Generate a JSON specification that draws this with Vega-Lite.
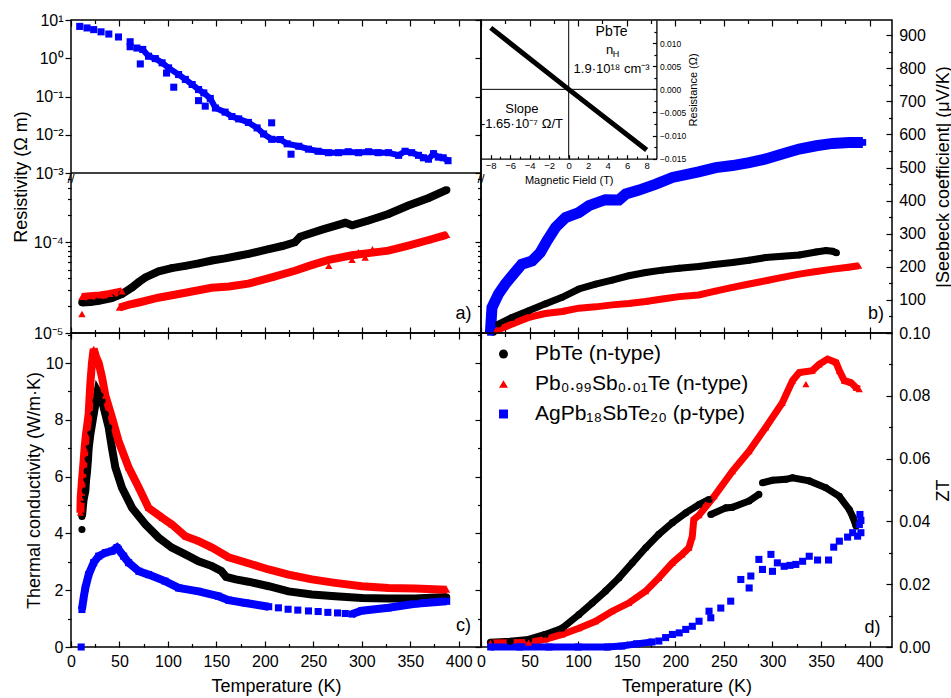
{
"$schema": "https://vega.github.io/schema/vega-lite/v6.json",
"padding": {"left": 11, "top": 11, "right": 0, "bottom": 0},
"background": "white",
"config": {
  "font": "Liberation Sans",
  "view": {"stroke": "#000000", "strokeWidth": 1.5},
  "axis": {"domain": false, "grid": false, "labelFont": "Liberation Sans", "titleFont": "Liberation Sans", "labelFontSize": 16, "titleFontSize": 18, "titleFontWeight": "normal", "labelColor": "#000000", "titleColor": "#000000", "tickColor": "#000000", "tickWidth": 1.2, "labelFlush": false, "labelOverlap": false}
},
"datasets": {
"ra": [{"T":9,"v":6.8,"o":1},{"T":16.5,"v":6.2,"o":1},{"T":23.4,"v":5.6,"o":1},{"T":31,"v":4.9,"o":1},{"T":39,"v":4.3,"o":1},{"T":49,"v":3.6,"o":1},{"T":61,"v":2.7,"o":1},{"T":61,"v":2.0,"o":1},{"T":68,"v":1.85,"o":1},{"T":71.5,"v":0.71,"o":1},{"T":74,"v":1.7},{"T":80,"v":1.13},{"T":87,"v":0.98},{"T":94,"v":0.76},{"T":100.7,"v":0.56},{"T":98.6,"v":0.41,"o":1},{"T":106,"v":0.175,"o":1},{"T":111,"v":0.375},{"T":118,"v":0.28},{"T":125,"v":0.206},{"T":131.6,"v":0.152},{"T":137,"v":0.124},{"T":131.6,"v":0.078,"o":1},{"T":143.7,"v":0.089},{"T":138.5,"v":0.056,"o":1},{"T":149,"v":0.05},{"T":159,"v":0.039},{"T":166,"v":0.03},{"T":173,"v":0.026},{"T":183,"v":0.021},{"T":192,"v":0.0151},{"T":198.7,"v":0.0105},{"T":207,"v":0.0205,"o":1},{"T":207,"v":0.0076},{"T":216,"v":0.0075},{"T":223,"v":0.0058},{"T":227,"v":0.0031,"o":1},{"T":235,"v":0.005},{"T":245,"v":0.0042},{"T":255,"v":0.0037},{"T":265.7,"v":0.0034},{"T":276,"v":0.0034},{"T":286,"v":0.0036},{"T":296.6,"v":0.0034},{"T":307,"v":0.0036},{"T":317,"v":0.0034},{"T":327.5,"v":0.0034},{"T":338,"v":0.0029},{"T":344.7,"v":0.0037},{"T":351.5,"v":0.0034},{"T":358.5,"v":0.0029},{"T":363.6,"v":0.0025},{"T":368.8,"v":0.0023},{"T":374,"v":0.0032},{"T":379,"v":0.0026},{"T":384,"v":0.0025},{"T":389,"v":0.0021}],
"rb": [{"T":11.3,"v":2.17e-5,"s":"A"},{"T":20,"v":2.2e-5,"s":"A"},{"T":28.6,"v":2.27e-5,"s":"A"},{"T":42,"v":2.43e-5,"s":"A"},{"T":52.6,"v":2.69e-5,"s":"A"},{"T":63,"v":3.18e-5,"s":"A"},{"T":70,"v":3.65e-5,"s":"A"},{"T":76.7,"v":4.1e-5,"s":"A"},{"T":90.4,"v":4.78e-5,"s":"A"},{"T":104,"v":5.2e-5,"s":"A"},{"T":118,"v":5.5e-5,"s":"A"},{"T":131.6,"v":5.85e-5,"s":"A"},{"T":145.4,"v":6.3e-5,"s":"A"},{"T":159,"v":6.65e-5,"s":"A"},{"T":173,"v":7.1e-5,"s":"A"},{"T":183,"v":7.45e-5,"s":"A"},{"T":204,"v":8.4e-5,"s":"A"},{"T":218,"v":9.1e-5,"s":"A"},{"T":231,"v":1.0e-4,"s":"A"},{"T":236.5,"v":1.15e-4,"s":"A"},{"T":259,"v":1.38e-4,"s":"A"},{"T":283,"v":1.64e-4,"s":"A"},{"T":290,"v":1.54e-4,"s":"A"},{"T":307,"v":1.74e-4,"s":"A"},{"T":327.5,"v":2.05e-4,"s":"A"},{"T":348,"v":2.54e-4,"s":"A"},{"T":369,"v":3.08e-4,"s":"A"},{"T":387.6,"v":3.78e-4,"s":"A"},
{"T":11.3,"v":2.5e-5,"s":"B","g":1},{"T":20,"v":2.55e-5,"s":"B","g":1},{"T":30,"v":2.6e-5,"s":"B","g":1},{"T":40,"v":2.7e-5,"s":"B","g":1},{"T":52.6,"v":2.88e-5,"s":"B","g":1},{"T":11.3,"v":1.62e-5,"s":"B","o":1},{"T":50,"v":1.91e-5,"s":"B"},{"T":60,"v":2.05e-5,"s":"B"},{"T":70,"v":2.17e-5,"s":"B"},{"T":90,"v":2.45e-5,"s":"B"},{"T":118,"v":2.78e-5,"s":"B"},{"T":145,"v":3.15e-5,"s":"B"},{"T":163,"v":3.25e-5,"s":"B"},{"T":183,"v":3.5e-5,"s":"B"},{"T":207,"v":4.1e-5,"s":"B"},{"T":231,"v":4.86e-5,"s":"B"},{"T":248,"v":5.6e-5,"s":"B"},{"T":266,"v":6.4e-5,"s":"B"},{"T":290,"v":7.2e-5,"s":"B"},{"T":311,"v":7.7e-5,"s":"B"},{"T":327.5,"v":8.1e-5,"s":"B"},{"T":348,"v":9.2e-5,"s":"B"},{"T":369,"v":1.06e-4,"s":"B"},{"T":387.6,"v":1.21e-4,"s":"B"},{"T":266,"v":5.5e-5,"s":"B","o":1},{"T":290,"v":6.4e-5,"s":"B","o":1},{"T":296.6,"v":7.8e-5,"s":"B","o":1},{"T":303.5,"v":6.8e-5,"s":"B","o":1},{"T":311,"v":8.4e-5,"s":"B","o":1}],
"s": [{"T":13,"v":2,"s":"A"},{"T":18,"v":27,"s":"A"},{"T":32,"v":47,"s":"A"},{"T":49,"v":67,"s":"A"},{"T":66,"v":88,"s":"A"},{"T":83.5,"v":108,"s":"A"},{"T":100.7,"v":133,"s":"A"},{"T":118,"v":148,"s":"A"},{"T":135,"v":160,"s":"A"},{"T":152,"v":173,"s":"A"},{"T":169.5,"v":183,"s":"A"},{"T":186.6,"v":190,"s":"A"},{"T":204,"v":196,"s":"A"},{"T":224,"v":201,"s":"A"},{"T":240,"v":207,"s":"A"},{"T":258.8,"v":213,"s":"A"},{"T":276,"v":220,"s":"A"},{"T":293,"v":228,"s":"A"},{"T":310,"v":232,"s":"A"},{"T":327.5,"v":236,"s":"A"},{"T":345,"v":245,"s":"A"},{"T":355,"v":249,"s":"A"},{"T":362,"v":247,"s":"A"},{"T":366,"v":242,"s":"A"},
{"T":15,"v":7,"s":"B"},{"T":32,"v":27,"s":"B"},{"T":49,"v":47,"s":"B"},{"T":66,"v":59,"s":"B"},{"T":83.5,"v":65,"s":"B"},{"T":100.7,"v":75,"s":"B"},{"T":118,"v":79,"s":"B"},{"T":135,"v":85,"s":"B"},{"T":152,"v":89,"s":"B"},{"T":169.5,"v":95,"s":"B"},{"T":186.6,"v":103,"s":"B"},{"T":204,"v":110,"s":"B"},{"T":224,"v":115,"s":"B"},{"T":240,"v":126,"s":"B"},{"T":258.8,"v":138,"s":"B"},{"T":276,"v":148,"s":"B"},{"T":293,"v":158,"s":"B"},{"T":310,"v":168,"s":"B"},{"T":327.5,"v":178,"s":"B"},{"T":345,"v":186,"s":"B"},{"T":362,"v":193,"s":"B"},{"T":376,"v":198,"s":"B"},{"T":389,"v":203,"s":"B"},
{"T":9.7,"v":2,"s":"C"},{"T":11.3,"v":77,"s":"C"},{"T":18,"v":118,"s":"C"},{"T":25,"v":148,"s":"C"},{"T":32,"v":173,"s":"C"},{"T":42,"v":208,"s":"C"},{"T":52.6,"v":218,"s":"C"},{"T":61,"v":243,"s":"C"},{"T":68,"v":279,"s":"C"},{"T":76.7,"v":319,"s":"C"},{"T":87,"v":349,"s":"C"},{"T":100.7,"v":364,"s":"C"},{"T":111,"v":385,"s":"C"},{"T":128,"v":403,"s":"C"},{"T":142,"v":402,"s":"C"},{"T":149,"v":420,"s":"C"},{"T":162.6,"v":432,"s":"C"},{"T":180,"v":450,"s":"C"},{"T":197,"v":470,"s":"C"},{"T":224,"v":487,"s":"C"},{"T":241.6,"v":500,"s":"C"},{"T":258.8,"v":506,"s":"C"},{"T":276,"v":515,"s":"C"},{"T":293,"v":526,"s":"C"},{"T":310,"v":541,"s":"C"},{"T":327.5,"v":556,"s":"C"},{"T":345,"v":566,"s":"C"},{"T":362,"v":573,"s":"C"},{"T":379,"v":576,"s":"C"},{"T":393,"v":576,"s":"C"}],
"k": [{"T":11.3,"v":4.14,"s":"A","o":1},{"T":11.3,"v":4.6,"s":"A"},{"T":13,"v":5.2,"s":"A"},{"T":14.8,"v":5.5,"s":"A"},{"T":15.5,"v":5.85,"s":"A"},{"T":16.6,"v":6.2,"s":"A"},{"T":17.5,"v":6.6,"s":"A"},{"T":18.2,"v":7.0,"s":"A"},{"T":20,"v":7.5,"s":"A"},{"T":23.4,"v":8.2,"s":"A"},{"T":25.8,"v":8.67,"s":"A"},{"T":27.5,"v":9.0,"s":"A"},{"T":30,"v":8.85,"s":"A"},{"T":32,"v":8.67,"s":"A"},{"T":35.5,"v":8.2,"s":"A"},{"T":38.9,"v":7.73,"s":"A"},{"T":42.3,"v":7.0,"s":"A"},{"T":45.8,"v":6.32,"s":"A"},{"T":52.6,"v":5.61,"s":"A"},{"T":63,"v":4.9,"s":"A"},{"T":76.7,"v":4.32,"s":"A"},{"T":90.4,"v":3.85,"s":"A"},{"T":104,"v":3.5,"s":"A"},{"T":118,"v":3.26,"s":"A"},{"T":131.6,"v":3.02,"s":"A"},{"T":145.4,"v":2.85,"s":"A"},{"T":155,"v":2.68,"s":"A"},{"T":160,"v":2.47,"s":"A"},{"T":170,"v":2.38,"s":"A"},{"T":183,"v":2.3,"s":"A"},{"T":204,"v":2.14,"s":"A"},{"T":224.4,"v":1.96,"s":"A"},{"T":248.5,"v":1.85,"s":"A"},{"T":272.5,"v":1.79,"s":"A"},{"T":300,"v":1.73,"s":"A"},{"T":327.5,"v":1.71,"s":"A"},{"T":355,"v":1.71,"s":"A"},{"T":387.6,"v":1.76,"s":"A"},
{"T":9.7,"v":4.73,"s":"B"},{"T":10,"v":5.26,"s":"B"},{"T":11.3,"v":5.85,"s":"B"},{"T":13,"v":6.55,"s":"B"},{"T":14,"v":7.0,"s":"B"},{"T":15.5,"v":7.5,"s":"B"},{"T":18.2,"v":8.2,"s":"B"},{"T":20,"v":9.3,"s":"B"},{"T":21.6,"v":10.0,"s":"B"},{"T":23.4,"v":10.5,"s":"B"},{"T":26,"v":10.2,"s":"B"},{"T":28.6,"v":10.0,"s":"B"},{"T":32,"v":9.5,"s":"B"},{"T":35.5,"v":8.85,"s":"B"},{"T":42.3,"v":8.08,"s":"B"},{"T":49,"v":7.26,"s":"B"},{"T":59.5,"v":6.32,"s":"B"},{"T":70,"v":5.61,"s":"B"},{"T":80,"v":4.9,"s":"B"},{"T":94,"v":4.55,"s":"B"},{"T":104,"v":4.32,"s":"B"},{"T":118,"v":3.9,"s":"B"},{"T":131.6,"v":3.73,"s":"B"},{"T":145.4,"v":3.5,"s":"B"},{"T":162.6,"v":3.16,"s":"B"},{"T":183,"v":2.95,"s":"B"},{"T":204,"v":2.73,"s":"B"},{"T":224.4,"v":2.55,"s":"B"},{"T":248.5,"v":2.38,"s":"B"},{"T":272.5,"v":2.26,"s":"B"},{"T":300,"v":2.14,"s":"B"},{"T":327.5,"v":2.08,"s":"B"},{"T":355,"v":2.06,"s":"B"},{"T":387.6,"v":2.02,"s":"B"},
{"T":10.5,"v":0,"s":"C","o":1},{"T":11.3,"v":1.32,"s":"C","g":1},{"T":13,"v":1.73,"s":"C","g":1},{"T":14.8,"v":2.08,"s":"C","g":1},{"T":18.2,"v":2.55,"s":"C","g":1},{"T":23.4,"v":2.97,"s":"C","g":1},{"T":28.6,"v":3.2,"s":"C","g":1},{"T":35.5,"v":3.32,"s":"C","g":1},{"T":42.3,"v":3.38,"s":"C","g":1},{"T":47.4,"v":3.5,"s":"C","g":1},{"T":49,"v":3.44,"s":"C","g":1},{"T":54.3,"v":3.2,"s":"C","g":1},{"T":59.5,"v":2.97,"s":"C","g":1},{"T":70,"v":2.67,"s":"C","g":1},{"T":80,"v":2.55,"s":"C","g":1},{"T":97,"v":2.32,"s":"C","g":1},{"T":111,"v":2.08,"s":"C","g":1},{"T":131.6,"v":1.96,"s":"C","g":1},{"T":152,"v":1.79,"s":"C","g":1},{"T":162.6,"v":1.65,"s":"C","g":1},{"T":180,"v":1.55,"s":"C","g":1},{"T":204,"v":1.42,"s":"C","g":1},{"T":214,"v":1.38,"s":"C","o":1},{"T":224,"v":1.33,"s":"C","o":1},{"T":234,"v":1.3,"s":"C","o":1},{"T":245,"v":1.27,"s":"C","o":1},{"T":255,"v":1.25,"s":"C","o":1},{"T":265,"v":1.22,"s":"C","o":1},{"T":275,"v":1.2,"s":"C","o":1},{"T":283,"v":1.18,"s":"C","o":1},{"T":290,"v":1.16,"s":"C","g":2},{"T":300,"v":1.28,"s":"C","g":2},{"T":327.5,"v":1.38,"s":"C","g":2},{"T":355,"v":1.52,"s":"C","g":2},{"T":387.6,"v":1.61,"s":"C","g":2}],
"z": [{"T":9.7,"v":0.0015,"s":"A","g":1},{"T":30,"v":0.0018,"s":"A","g":1},{"T":49,"v":0.0024,"s":"A","g":1},{"T":66,"v":0.004,"s":"A","g":1},{"T":83.5,"v":0.006,"s":"A","g":1},{"T":100.7,"v":0.0103,"s":"A","g":1},{"T":114.4,"v":0.014,"s":"A","g":1},{"T":128.2,"v":0.0178,"s":"A","g":1},{"T":142,"v":0.022,"s":"A","g":1},{"T":155.7,"v":0.0268,"s":"A","g":1},{"T":169.5,"v":0.0316,"s":"A","g":1},{"T":183,"v":0.0359,"s":"A","g":1},{"T":197,"v":0.0396,"s":"A","g":1},{"T":210.7,"v":0.0427,"s":"A","g":1},{"T":224.4,"v":0.0454,"s":"A","g":1},{"T":234.7,"v":0.047,"s":"A","g":1},{"T":236.5,"v":0.0422,"s":"A","g":2},{"T":252,"v":0.0443,"s":"A","g":2},{"T":258.8,"v":0.0445,"s":"A","g":2},{"T":276,"v":0.0465,"s":"A","g":2},{"T":286,"v":0.0486,"s":"A","g":2},{"T":289.7,"v":0.0523,"s":"A","g":3},{"T":300,"v":0.0531,"s":"A","g":3},{"T":313.8,"v":0.0534,"s":"A","g":3},{"T":320.6,"v":0.0539,"s":"A","g":3},{"T":337.8,"v":0.0529,"s":"A","g":3},{"T":355,"v":0.0507,"s":"A","g":3},{"T":368.8,"v":0.048,"s":"A","g":3},{"T":379,"v":0.0438,"s":"A","g":3},{"T":383,"v":0.0412,"s":"A","g":3},{"T":386,"v":0.0385,"s":"A","g":3},
{"T":9.7,"v":0.0013,"s":"B"},{"T":49,"v":0.0014,"s":"B"},{"T":66,"v":0.0024,"s":"B"},{"T":83.5,"v":0.004,"s":"B"},{"T":100.7,"v":0.006,"s":"B"},{"T":118,"v":0.0082,"s":"B"},{"T":135,"v":0.0114,"s":"B"},{"T":152,"v":0.014,"s":"B"},{"T":169.5,"v":0.0178,"s":"B"},{"T":183,"v":0.022,"s":"B"},{"T":197,"v":0.0268,"s":"B"},{"T":207,"v":0.0295,"s":"B"},{"T":214,"v":0.0316,"s":"B"},{"T":217.5,"v":0.0353,"s":"B"},{"T":219,"v":0.0406,"s":"B"},{"T":224.4,"v":0.042,"s":"B"},{"T":240,"v":0.048,"s":"B"},{"T":258.8,"v":0.056,"s":"B"},{"T":276,"v":0.0624,"s":"B"},{"T":293,"v":0.0699,"s":"B"},{"T":310,"v":0.0777,"s":"B"},{"T":320.6,"v":0.0848,"s":"B"},{"T":327.5,"v":0.0874,"s":"B"},{"T":334.4,"v":0.0837,"s":"B","o":1},{"T":341,"v":0.088,"s":"B"},{"T":348,"v":0.09,"s":"B"},{"T":356.7,"v":0.0917,"s":"B"},{"T":365.4,"v":0.0906,"s":"B"},{"T":368.8,"v":0.088,"s":"B"},{"T":374,"v":0.0848,"s":"B"},{"T":380.8,"v":0.0842,"s":"B"},{"T":386,"v":0.0826,"s":"B"},{"T":389.4,"v":0.0821,"s":"B"},
{"T":10,"v":0,"s":"C"},{"T":40,"v":0,"s":"C"},{"T":70,"v":0,"s":"C"},{"T":100,"v":0,"s":"C"},{"T":130,"v":0,"s":"C"},{"T":145,"v":0.0003,"s":"C"},{"T":160,"v":0.001,"s":"C"},{"T":176,"v":0.0016,"s":"C"},{"T":183,"v":0.0019,"s":"C","o":1},{"T":190,"v":0.003,"s":"C","o":1},{"T":197,"v":0.004,"s":"C","o":1},{"T":204,"v":0.0045,"s":"C","o":1},{"T":210.7,"v":0.0056,"s":"C","o":1},{"T":217.5,"v":0.0066,"s":"C","o":1},{"T":224.4,"v":0.0082,"s":"C","o":1},{"T":234.7,"v":0.0114,"s":"C","o":1},{"T":236.5,"v":0.0093,"s":"C","o":1},{"T":246.8,"v":0.0124,"s":"C","o":1},{"T":257,"v":0.0146,"s":"C","o":1},{"T":267.4,"v":0.0215,"s":"C","o":1},{"T":276,"v":0.0188,"s":"C","o":1},{"T":277.7,"v":0.0226,"s":"C","o":1},{"T":286,"v":0.0279,"s":"C","o":1},{"T":289.7,"v":0.0247,"s":"C","o":1},{"T":298.4,"v":0.0295,"s":"C","o":1},{"T":300,"v":0.0241,"s":"C","o":1},{"T":305,"v":0.0268,"s":"C","o":1},{"T":312,"v":0.0257,"s":"C","o":1},{"T":318,"v":0.026,"s":"C","o":1},{"T":324,"v":0.0263,"s":"C","o":1},{"T":331,"v":0.0273,"s":"C","o":1},{"T":337.8,"v":0.0289,"s":"C","o":1},{"T":346.4,"v":0.0277,"s":"C","o":1},{"T":357.7,"v":0.0277,"s":"C","o":1},{"T":363,"v":0.0318,"s":"C","o":1},{"T":368.8,"v":0.0337,"s":"C","o":1},{"T":377.3,"v":0.035,"s":"C","o":1},{"T":382.5,"v":0.0364,"s":"C","o":1},{"T":387.6,"v":0.0353,"s":"C","o":1},{"T":389.4,"v":0.039,"s":"C","o":1},{"T":390,"v":0.0422,"s":"C","o":1},{"T":391,"v":0.0403,"s":"C","o":1},{"T":391,"v":0.0364,"s":"C","o":1}],
"h": [{"B":-8,"R":0.0133},{"B":0,"R":0},{"B":8,"R":-0.0131}]
},
"spacing": 0,
"bounds": "flush",
"columns": 2,
"resolve": {"legend": {"color": "independent", "shape": "independent"}},
"concat": [
 {"width": 410, "height": 313,
  "layer": [
   {"data": {"name": "ra"},
    "layer": [
     {"transform": [{"filter": "!datum.o"}], "mark": {"type": "line", "color": "#0000ff", "strokeWidth": 6},
      "encoding": {
       "x": {"field": "T", "type": "quantitative", "scale": {"domain": [0, 423], "nice": false}, "axis": {"orient": "top", "labels": false, "title": null, "values": [0,25,50,75,100,125,150,175,200,225,250,275,300,325,350,375,400], "tickSize": {"condition": {"test": "datum.value % 50 === 0", "value": -6}, "value": -3.5}}},
       "y": {"field": "v", "type": "quantitative", "scale": {"type": "log", "domain": [0.001, 10], "range": [153, 0], "nice": false}, "axis": {"orient": "left", "values": [0.001, 0.01, 0.1, 1, 10], "labelExpr": "datum.value > 5 ? '10¹' : datum.value > 0.5 ? '10⁰' : datum.value > 0.05 ? '10⁻¹' : datum.value > 0.005 ? '10⁻²' : '10⁻³'", "tickSize": 6, "labelPadding": 2, "title": "Resistivity (Ω m)", "titleX": -40.6, "titleY": 156.5, "titleAngle": 270, "titleBaseline": "bottom", "titleAlign": "center"}}
      }},
     {"mark": {"type": "point", "shape": "square", "filled": true, "color": "#0000ff", "size": 50, "opacity": 1},
      "encoding": {
       "x": {"field": "T", "type": "quantitative", "axis": null},
       "y": {"field": "v", "type": "quantitative", "axis": {"orient": "right", "labels": false, "title": null, "values": [0.001, 0.01, 0.1, 1, 10], "tickSize": -6}}
      }},
     {"data": {"values": [{}]}, "mark": {"type": "rule", "color": "#000000", "strokeWidth": 1.5},
      "encoding": {"y": {"datum": 0.001, "type": "quantitative", "axis": null}}},
     {"data": {"values": [{}]}, "mark": {"type": "text", "fontSize": 13, "color": "#000000", "dy": 6},
      "encoding": {"x": {"datum": 0, "type": "quantitative", "axis": null}, "y": {"datum": 0.001, "type": "quantitative", "axis": null}, "text": {"value": "//"}}},
     {"data": {"values": [{}]}, "mark": {"type": "text", "fontSize": 13, "color": "#000000", "dy": 6},
      "encoding": {"x": {"datum": 423, "type": "quantitative", "axis": null}, "y": {"datum": 0.001, "type": "quantitative", "axis": null}, "text": {"value": "//"}}}
    ],
    "resolve": {"axis": {"x": "independent", "y": "independent"}}
   },
   {"data": {"name": "rb"},
    "layer": [
     {"transform": [{"filter": "!datum.o"}], "mark": {"type": "line", "strokeWidth": 8},
      "encoding": {
       "x": {"field": "T", "type": "quantitative", "scale": {"domain": [0, 423], "nice": false}, "axis": {"orient": "bottom", "labels": false, "title": null, "values": [0,25,50,75,100,125,150,175,200,225,250,275,300,325,350,375,400], "tickSize": {"condition": {"test": "datum.value % 50 === 0", "value": -6}, "value": -3.5}}},
       "y": {"field": "v", "type": "quantitative", "scale": {"type": "log", "domain": [0.00001, 0.000581], "range": [313, 153], "nice": false}, "axis": {"orient": "left", "values": [0.00001,0.00002,0.00003,0.00004,0.00005,0.00006,0.00007,0.00008,0.00009,0.0001,0.0002,0.0003,0.0004,0.0005], "labelExpr": "(datum.value > 0.000095 && datum.value < 0.000105) ? '10⁻⁴' : datum.value < 0.0000105 ? '10⁻⁵' : ''", "tickSize": {"condition": {"test": "(datum.value > 0.000095 && datum.value < 0.000105) || datum.value < 0.0000105", "value": 6}, "value": 3.5}, "labelPadding": 2, "title": null}},
       "color": {"field": "s", "type": "nominal", "scale": {"domain": ["A", "B", "C"], "range": ["#000000", "#ff0000", "#0000ff"]}, "legend": null},
       "detail": {"field": "g"}
      }},
     {"mark": {"type": "point", "filled": true, "size": 55, "opacity": 1},
      "encoding": {
       "x": {"field": "T", "type": "quantitative", "axis": null},
       "y": {"field": "v", "type": "quantitative", "axis": {"orient": "right", "labels": false, "title": null, "values": [0.00001,0.00002,0.00003,0.00004,0.00005,0.00006,0.00007,0.00008,0.00009,0.0001,0.0002,0.0003,0.0004,0.0005], "tickSize": {"condition": {"test": "(datum.value > 0.000095 && datum.value < 0.000105) || datum.value < 0.0000105", "value": -6}, "value": -3.5}}},
       "color": {"field": "s", "type": "nominal", "scale": {"domain": ["A", "B", "C"], "range": ["#000000", "#ff0000", "#0000ff"]}, "legend": null},
       "shape": {"field": "s", "type": "nominal", "scale": {"domain": ["A", "B", "C"], "range": ["circle", "triangle-up", "square"]}, "legend": null}
      }},
     {"data": {"values": [{}]}, "mark": {"type": "text", "fontSize": 18, "color": "#000000"},
      "encoding": {"x": {"datum": 405, "type": "quantitative", "axis": null}, "y": {"datum": 0.0000164, "type": "quantitative", "axis": null}, "text": {"value": "a)"}}}
    ],
    "resolve": {"axis": {"x": "independent", "y": "independent"}}
   }
  ],
  "resolve": {"scale": {"y": "independent"}, "axis": {"x": "independent", "y": "independent"}}
 },
 {"width": 411, "height": 313,
  "layer": [
   {"data": {"name": "s"},
    "layer": [
     {"transform": [{"filter": "datum.s != 'C'"}], "mark": {"type": "line", "strokeWidth": 7},
      "encoding": {
       "x": {"field": "T", "type": "quantitative", "scale": {"domain": [0, 423], "nice": false}, "axis": {"orient": "bottom", "labels": false, "title": null, "values": [0,25,50,75,100,125,150,175,200,225,250,275,300,325,350,375,400], "tickSize": {"condition": {"test": "datum.value % 50 === 0", "value": -6}, "value": -3.5}}},
       "y": {"field": "v", "type": "quantitative", "scale": {"domain": [0, 946], "nice": false}, "axis": {"orient": "right", "values": [0,50,100,150,200,250,300,350,400,450,500,550,600,650,700,750,800,850,900], "labelExpr": "datum.value > 0 && datum.value % 100 === 0 ? datum.label : ''", "tickSize": {"condition": {"test": "datum.value % 100 === 0", "value": -6}, "value": -3.5}, "labelPadding": 12.7, "title": "|Seebeck coefficient| (μV/K)", "titleAngle": 270, "titleX": 42, "titleY": 156.5, "titleBaseline": "top", "titleAlign": "center"}},
       "color": {"field": "s", "type": "nominal", "scale": {"domain": ["A", "B", "C"], "range": ["#000000", "#ff0000", "#0000ff"]}, "legend": null}
      }},
     {"transform": [{"filter": "datum.s == 'C'"}], "mark": {"type": "line", "strokeWidth": 11},
      "encoding": {
       "x": {"field": "T", "type": "quantitative", "axis": null},
       "y": {"field": "v", "type": "quantitative", "axis": null},
       "color": {"field": "s", "type": "nominal", "scale": {"domain": ["A", "B", "C"], "range": ["#000000", "#ff0000", "#0000ff"]}, "legend": null}
      }},
     {"mark": {"type": "point", "filled": true, "size": 45, "opacity": 1},
      "encoding": {
       "x": {"field": "T", "type": "quantitative", "axis": {"orient": "top", "labels": false, "title": null, "values": [0,25,50,75,100,125,150,175,200,225,250,275,300,325,350,375,400], "tickSize": {"condition": {"test": "datum.value % 50 === 0", "value": -6}, "value": -3.5}}},
       "y": {"field": "v", "type": "quantitative", "axis": null},
       "color": {"field": "s", "type": "nominal", "scale": {"domain": ["A", "B", "C"], "range": ["#000000", "#ff0000", "#0000ff"]}, "legend": null},
       "shape": {"field": "s", "type": "nominal", "scale": {"domain": ["A", "B", "C"], "range": ["circle", "triangle-up", "square"]}, "legend": null}
      }},
     {"data": {"values": [{}]}, "mark": {"type": "text", "fontSize": 18, "color": "#000000"},
      "encoding": {"x": {"datum": 406.6, "type": "quantitative", "axis": null}, "y": {"datum": 57, "type": "quantitative", "axis": null}, "text": {"value": "b)"}}}
    ],
    "resolve": {"axis": {"x": "independent", "y": "independent"}}
   },
   {"data": {"name": "h"},
    "layer": [
     {"mark": {"type": "line", "color": "#000000", "strokeWidth": 5},
      "encoding": {
       "x": {"field": "B", "type": "quantitative", "scale": {"domain": [-9, 9], "range": [0, 175.4], "nice": false}, "axis": {"orient": "bottom", "offset": -174.3, "values": [-8,-7,-6,-5,-4,-3,-2,-1,0,1,2,3,4,5,6,7,8], "labelExpr": "datum.value % 2 === 0 ? datum.label : ''", "tickSize": {"condition": {"test": "datum.value % 2 === 0", "value": -4}, "value": -2.5}, "labelFontSize": 9.5, "labelPadding": 6, "title": "Magnetic Field (T)", "titleFontSize": 11, "titlePadding": 3, "domain": true, "domainColor": "#000000", "domainWidth": 1.3}},
       "y": {"field": "R", "type": "quantitative", "scale": {"domain": [-0.015, 0.015], "range": [138.7, 0], "nice": false}, "axis": {"orient": "right", "offset": -235.6, "values": [-0.015,-0.0125,-0.01,-0.0075,-0.005,-0.0025,0,0.0025,0.005,0.0075,0.01,0.0125], "labelExpr": "abs(round(datum.value*1000)) % 5 === 0 ? format(datum.value, '.3f') : ''", "tickSize": {"condition": {"test": "abs(round(datum.value*1000)) % 5 === 0", "value": -4}, "value": -2.5}, "labelFontSize": 8.5, "labelPadding": 7, "title": "Resistance (Ω)", "titleFontSize": 11, "titleAngle": 270, "titleX": 31, "titleY": 69.4, "titleBaseline": "top", "titleAlign": "center", "domain": true, "domainColor": "#000000", "domainWidth": 1.3}}
      }},
     {"data": {"values": [{}]}, "mark": {"type": "rule", "color": "#000000", "strokeWidth": 1},
      "encoding": {"x": {"datum": 0, "type": "quantitative", "axis": null}, "y": {"datum": -0.015, "type": "quantitative", "axis": null}, "y2": {"datum": 0.015}}},
     {"data": {"values": [{}]}, "mark": {"type": "rule", "color": "#000000", "strokeWidth": 1},
      "encoding": {"y": {"datum": 0, "type": "quantitative", "axis": null}, "x": {"datum": -9, "type": "quantitative", "axis": null}, "x2": {"datum": 9}}},
     {"data": {"values": [{}]}, "mark": {"type": "text", "fontSize": 14, "color": "#000000"},
      "encoding": {"x": {"datum": 4.4, "type": "quantitative", "axis": null}, "y": {"datum": 0.0124, "type": "quantitative", "axis": null}, "text": {"value": "PbTe"}}},
     {"data": {"values": [{}]}, "mark": {"type": "text", "fontSize": 13, "color": "#000000"},
      "encoding": {"x": {"datum": 4.2, "type": "quantitative", "axis": null}, "y": {"datum": 0.0086, "type": "quantitative", "axis": null}, "text": {"value": "n"}}},
     {"data": {"values": [{}]}, "mark": {"type": "text", "fontSize": 9, "color": "#000000", "dy": 4},
      "encoding": {"x": {"datum": 4.85, "type": "quantitative", "axis": null}, "y": {"datum": 0.0086, "type": "quantitative", "axis": null}, "text": {"value": "H"}}},
     {"data": {"values": [{}]}, "mark": {"type": "text", "fontSize": 13, "color": "#000000"},
      "encoding": {"x": {"datum": 4.4, "type": "quantitative", "axis": null}, "y": {"datum": 0.0045, "type": "quantitative", "axis": null}, "text": {"value": "1.9·10¹⁸ cm⁻³"}}},
     {"data": {"values": [{}]}, "mark": {"type": "text", "fontSize": 13, "color": "#000000"},
      "encoding": {"x": {"datum": -4.8, "type": "quantitative", "axis": null}, "y": {"datum": -0.0043, "type": "quantitative", "axis": null}, "text": {"value": "Slope"}}},
     {"data": {"values": [{}]}, "mark": {"type": "text", "fontSize": 13, "color": "#000000"},
      "encoding": {"x": {"datum": -4.8, "type": "quantitative", "axis": null}, "y": {"datum": -0.0076, "type": "quantitative", "axis": null}, "text": {"value": "-1.65·10⁻⁷ Ω/T"}}}
    ],
    "resolve": {"axis": {"x": "independent", "y": "independent"}}
   }
  ],
  "resolve": {"scale": {"x": "independent", "y": "independent"}}
 },
 {"width": 410, "height": 314, "data": {"name": "k"},
  "layer": [
   {"transform": [{"filter": "!datum.o"}], "mark": {"type": "line", "strokeWidth": 8},
    "encoding": {
     "x": {"field": "T", "type": "quantitative", "scale": {"domain": [0, 423], "nice": false}, "axis": {"orient": "bottom", "values": [0,25,50,75,100,125,150,175,200,225,250,275,300,325,350,375,400], "labelExpr": "datum.value % 50 === 0 ? datum.label : ''", "tickSize": {"condition": {"test": "datum.value % 50 === 0", "value": -6}, "value": -3.5}, "labelPadding": 12, "title": "Temperature (K)", "titleFontWeight": "normal", "titlePadding": 6}},
     "y": {"field": "v", "type": "quantitative", "scale": {"domain": [0, 11.06], "nice": false}, "axis": {"orient": "left", "values": [0,1,2,3,4,5,6,7,8,9,10,11], "labelExpr": "datum.value % 2 === 0 ? datum.label : ''", "tickSize": {"condition": {"test": "datum.value % 2 === 0", "value": 6}, "value": 3.5}, "labelPadding": 2, "title": "Thermal conductivity (W/m·K)", "titleX": -27.3, "titleY": 157, "titleAngle": 270, "titleBaseline": "bottom", "titleAlign": "center"}},
     "color": {"field": "s", "type": "nominal", "scale": {"domain": ["A", "B", "C"], "range": ["#000000", "#ff0000", "#0000ff"]}, "legend": null},
     "detail": {"field": "g"}
    }},
   {"mark": {"type": "point", "filled": true, "size": 50, "opacity": 1},
    "encoding": {
     "x": {"field": "T", "type": "quantitative", "axis": {"orient": "top", "labels": false, "title": null, "values": [0,25,50,75,100,125,150,175,200,225,250,275,300,325,350,375,400], "tickSize": {"condition": {"test": "datum.value % 50 === 0", "value": -6}, "value": -3.5}}},
     "y": {"field": "v", "type": "quantitative", "axis": {"orient": "right", "labels": false, "title": null, "values": [0,1,2,3,4,5,6,7,8,9,10,11], "tickSize": {"condition": {"test": "datum.value % 2 === 0", "value": -6}, "value": -3.5}}},
     "color": {"field": "s", "type": "nominal", "scale": {"domain": ["A", "B", "C"], "range": ["#000000", "#ff0000", "#0000ff"]}, "legend": null},
     "shape": {"field": "s", "type": "nominal", "scale": {"domain": ["A", "B", "C"], "range": ["circle", "triangle-up", "square"]}, "legend": null}
    }},
   {"data": {"values": [{}]}, "mark": {"type": "text", "fontSize": 18, "color": "#000000"},
    "encoding": {"x": {"datum": 405, "type": "quantitative", "axis": null}, "y": {"datum": 0.73, "type": "quantitative", "axis": null}, "text": {"value": "c)"}}}
  ],
  "resolve": {"axis": {"x": "independent", "y": "independent"}}
 },
 {"width": 411, "height": 314, "data": {"name": "z"},
  "layer": [
   {"transform": [{"filter": "datum.s == 'A' && !datum.o"}], "mark": {"type": "line", "strokeWidth": 7, "color": "#000000"},
    "encoding": {
     "x": {"field": "T", "type": "quantitative", "scale": {"domain": [0, 423], "nice": false}, "axis": {"orient": "bottom", "values": [0,25,50,75,100,125,150,175,200,225,250,275,300,325,350,375,400], "labelExpr": "datum.value % 50 === 0 ? datum.label : ''", "tickSize": {"condition": {"test": "datum.value % 50 === 0", "value": -6}, "value": -3.5}, "labelPadding": 12, "title": "Temperature (K)", "titleFontWeight": "normal", "titlePadding": 6}},
     "y": {"field": "v", "type": "quantitative", "scale": {"domain": [0, 0.1], "nice": false}, "axis": {"orient": "right", "values": [0,0.01,0.02,0.03,0.04,0.05,0.06,0.07,0.08,0.09,0.1], "labelExpr": "round(datum.value*100) % 2 === 0 ? format(datum.value, '.2f') : ''", "tickSize": {"condition": {"test": "round(datum.value*100) % 2 === 0", "value": -6}, "value": -3.5}, "labelPadding": 12.7, "title": "ZT", "titleAngle": 270, "titleX": 42, "titleY": 157, "titleBaseline": "top", "titleAlign": "center"}},
     "detail": {"field": "g"}
    }},
   {"transform": [{"filter": "datum.s == 'B' && !datum.o"}], "mark": {"type": "line", "strokeWidth": 7, "color": "#ff0000"},
    "encoding": {
     "x": {"field": "T", "type": "quantitative", "axis": null},
     "y": {"field": "v", "type": "quantitative", "axis": null}
    }},
   {"transform": [{"filter": "datum.s == 'C' && !datum.o"}], "mark": {"type": "line", "strokeWidth": 7, "color": "#0000ff"},
    "encoding": {
     "x": {"field": "T", "type": "quantitative", "axis": null},
     "y": {"field": "v", "type": "quantitative", "axis": null}
    }},
   {"mark": {"type": "point", "filled": true, "size": 50, "opacity": 1},
    "encoding": {
     "x": {"field": "T", "type": "quantitative", "axis": {"orient": "top", "labels": false, "title": null, "values": [0,25,50,75,100,125,150,175,200,225,250,275,300,325,350,375,400], "tickSize": {"condition": {"test": "datum.value % 50 === 0", "value": -6}, "value": -3.5}}},
     "y": {"field": "v", "type": "quantitative", "axis": null},
     "color": {"field": "s", "type": "nominal", "scale": {"domain": ["A", "B", "C"], "range": ["#000000", "#ff0000", "#0000ff"]}, "legend": {"title": null, "orient": "none", "legendX": 12, "legendY": 10.5, "labelExpr": "datum.label == 'A' ? 'PbTe (n-type)' : datum.label == 'B' ? 'Pb₀.₉₉Sb₀.₀₁Te (n-type)' : 'AgPb₁₈SbTe₂₀ (p-type)'", "labelFontSize": 21, "labelFont": "Liberation Sans", "labelColor": "#000000", "labelLimit": 0, "symbolSize": 80, "labelOffset": 21, "rowPadding": 8, "padding": 0}},
     "shape": {"field": "s", "type": "nominal", "scale": {"domain": ["A", "B", "C"], "range": ["circle", "triangle-up", "square"]}, "legend": {"title": null, "orient": "none", "legendX": 12, "legendY": 10.5, "labelExpr": "datum.label == 'A' ? 'PbTe (n-type)' : datum.label == 'B' ? 'Pb₀.₉₉Sb₀.₀₁Te (n-type)' : 'AgPb₁₈SbTe₂₀ (p-type)'", "labelFontSize": 21, "labelFont": "Liberation Sans", "labelColor": "#000000", "labelLimit": 0, "symbolSize": 80, "labelOffset": 21, "rowPadding": 8, "padding": 0}}
    }},
   {"data": {"values": [{}]}, "mark": {"type": "text", "fontSize": 18, "color": "#000000"},
    "encoding": {"x": {"datum": 403, "type": "quantitative", "axis": null}, "y": {"datum": 0.0061, "type": "quantitative", "axis": null}, "text": {"value": "d)"}}}
  ],
  "resolve": {"axis": {"x": "independent", "y": "independent"}}
 }
]
}
